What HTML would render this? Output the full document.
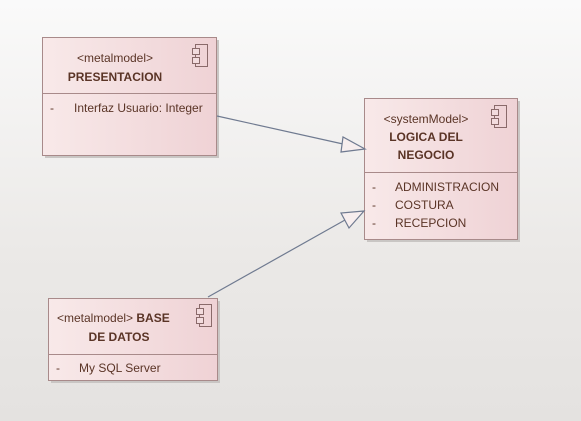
<!DOCTYPE html>
<html><head><meta charset="utf-8"><style>
html,body{margin:0;width:581px;height:421px;overflow:hidden;background:linear-gradient(#fafafa,#ebe9e7 60%,#e4e2e0);font-family:"Liberation Sans",sans-serif;}
svg{display:block;}
text{font-family:"Liberation Sans",sans-serif;fill:#5a3426;font-size:12px;}
.b{font-weight:bold;}
</style></head><body>
<svg width="581" height="421" xmlns="http://www.w3.org/2000/svg">
<defs>
<linearGradient id="g" x1="0" x2="1"><stop offset="0" stop-color="#f8e9e9"/><stop offset="1" stop-color="#efd2d5"/></linearGradient>
</defs>
<g fill="#c9c6c4">
<rect x="45" y="40" width="174" height="118"/>
<rect x="367" y="101" width="153" height="141"/>
<rect x="51" y="301" width="169" height="82"/>
</g>
<g fill="url(#g)" stroke="#a88a8a" stroke-width="1">
<rect x="42.5" y="37.5" width="174" height="118"/>
<rect x="364.5" y="98.5" width="153" height="141"/>
<rect x="48.5" y="298.5" width="169" height="82"/>
</g>
<g stroke="#a88a8a">
<line x1="42.5" y1="93.5" x2="216.5" y2="93.5"/>
<line x1="364.5" y1="172.5" x2="517.5" y2="172.5"/>
<line x1="48.5" y1="354.5" x2="217.5" y2="354.5"/>
</g>
<g fill="none" stroke="#8a6a6a" stroke-width="1">
<rect x="195.5" y="44.5" width="12" height="22"/><rect x="192.5" y="48.5" width="7" height="6" fill="#f3dcde"/><rect x="192.5" y="57.5" width="7" height="6" fill="#f3dcde"/>
<rect x="494.5" y="105.5" width="12" height="22"/><rect x="491.5" y="109.5" width="7" height="6" fill="#f3dcde"/><rect x="491.5" y="118.5" width="7" height="6" fill="#f3dcde"/>
<rect x="199.5" y="304.5" width="12" height="22"/><rect x="196.5" y="308.5" width="7" height="6" fill="#f3dcde"/><rect x="196.5" y="317.5" width="7" height="6" fill="#f3dcde"/>
</g>
<g stroke="#6f7a90" stroke-width="1.2" fill="#f7eeee">
<line x1="217" y1="116" x2="343" y2="144"/>
<polygon points="365,149 343,137 341,152"/>
<line x1="208" y1="297" x2="345" y2="220"/>
<polygon points="364,211 341,213 349,228"/>
</g>
<text x="115" y="62" text-anchor="middle">&lt;metalmodel&gt;</text>
<text x="115" y="81" text-anchor="middle" class="b">PRESENTACION</text>
<text x="50" y="112">-</text><text x="74" y="112">Interfaz Usuario: Integer</text>
<text x="426" y="123" text-anchor="middle">&lt;systemModel&gt;</text>
<text x="426" y="141" text-anchor="middle" class="b">LOGICA DEL</text>
<text x="426" y="159" text-anchor="middle" class="b">NEGOCIO</text>
<text x="372" y="191">-</text><text x="395" y="191">ADMINISTRACION</text>
<text x="372" y="209">-</text><text x="395" y="209">COSTURA</text>
<text x="372" y="227">-</text><text x="395" y="227">RECEPCION</text>
<text x="57" y="322">&lt;metalmodel&gt; <tspan class="b">BASE</tspan></text>
<text x="119" y="341" text-anchor="middle" class="b">DE DATOS</text>
<text x="56" y="372">-</text><text x="79" y="372">My SQL Server</text>
</svg>
</body></html>
